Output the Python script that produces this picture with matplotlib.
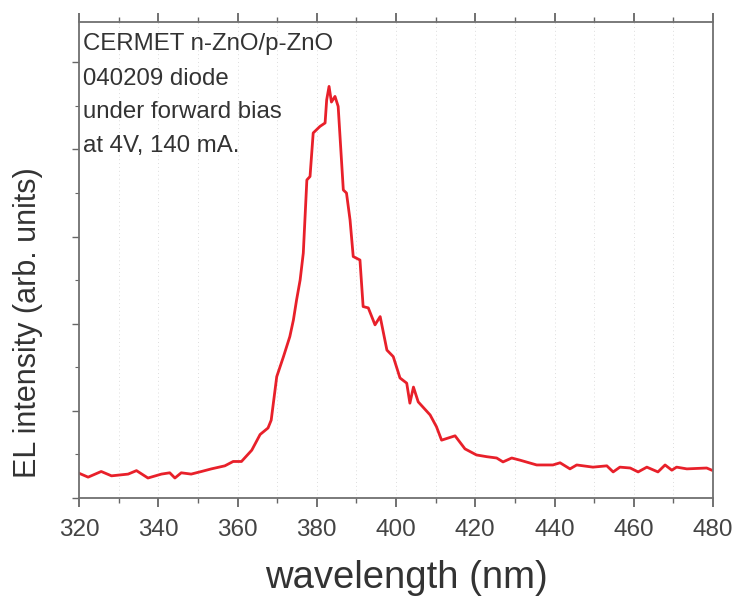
import numpy as np
import matplotlib.pyplot as plt
from matplotlib.ticker import MultipleLocator, NullFormatter

# EL spectrum (wavelength in nm, intensity in arb. units)
wavelength = [320.0, 322.3, 325.6, 328.2, 332.4, 334.5, 337.4, 340.8, 342.9, 344.2,
              345.8, 348.3, 350.9, 353.4, 356.8, 358.9, 361.0, 363.6, 365.7, 367.7,
              368.5, 369.9, 371.6, 373.2, 374.1, 374.9, 375.8, 376.6, 377.5, 378.3,
              379.1, 380.8, 382.1, 382.5, 383.1, 383.7, 384.6, 385.4, 386.7, 387.5,
              388.4, 389.2, 390.9, 391.7, 393.0, 394.7, 396.0, 397.7, 399.3, 401.0,
              402.7, 403.5, 404.4, 405.6, 408.6, 410.2, 411.5, 414.9, 417.4, 420.3,
              422.9, 425.4, 427.0, 429.2, 431.3, 435.5, 439.6, 441.4, 443.9, 445.6,
              449.7, 453.2, 454.8, 456.5, 459.1, 461.1, 463.3, 466.1, 467.9, 469.6,
              470.8, 473.4, 478.4, 479.7]
intensity = [0.56, 0.47, 0.60, 0.50, 0.54, 0.62, 0.45, 0.54, 0.57, 0.45,
             0.57, 0.54, 0.60, 0.66, 0.73, 0.83, 0.83, 1.09, 1.45, 1.60,
             1.78, 2.78, 3.24, 3.70, 4.08, 4.54, 5.00, 5.62, 7.30, 7.38,
             8.38, 8.53, 8.61, 9.14, 9.45, 9.09, 9.22, 8.99, 7.07, 7.00,
             6.38, 5.54, 5.46, 4.39, 4.36, 3.97, 4.16, 3.39, 3.24, 2.75,
             2.63, 2.17, 2.54, 2.20, 1.90, 1.63, 1.32, 1.42, 1.12, 0.98,
             0.94, 0.91, 0.82, 0.91, 0.86, 0.75, 0.75, 0.80, 0.66, 0.75,
             0.70, 0.73, 0.59, 0.70, 0.68, 0.59, 0.70, 0.59, 0.75, 0.63,
             0.70, 0.66, 0.68, 0.63]

note_lines = ["CERMET n-ZnO/p-ZnO", "040209 diode", "under forward bias", "at 4V, 140 mA."]
note_y = [0.953, 0.880, 0.810, 0.739]

plt.rcParams['font.family'] = ['Liberation Sans', 'DejaVu Sans']

fig = plt.figure(figsize=(7.35, 5.98), dpi=100)
ax = fig.add_axes([0.1075, 0.1679, 0.8626, 0.7953])

# faint dotted vertical grid every 10 nm
for g in range(330, 480, 10):
    ax.axvline(g, color='#dddddd', lw=0.7, ls=(0, (1, 3)), zorder=0)

ax.plot(wavelength, intensity, color='#e8202a', lw=2.0)

ax.set_xlim(320, 480)
ax.set_ylim(0, 10.93)

ax.xaxis.set_major_locator(MultipleLocator(20))
ax.xaxis.set_minor_locator(MultipleLocator(10))
ax.yaxis.set_major_locator(MultipleLocator(2))
ax.yaxis.set_minor_locator(MultipleLocator(1))
ax.yaxis.set_major_formatter(NullFormatter())

ax.tick_params(axis='x', which='both', direction='out', top=True, colors='#666666',
               labelcolor='#444444', labelsize=17.5)
ax.tick_params(axis='x', which='major', length=6.5, width=1.3, pad=9)
ax.tick_params(axis='x', which='minor', length=3.5, width=1.0)
ax.tick_params(axis='y', which='both', direction='out', right=False, colors='#666666')
ax.tick_params(axis='y', which='major', length=5, width=1.0)
ax.tick_params(axis='y', which='minor', length=3, width=0.8)

for s in ax.spines.values():
    s.set_color('#707070')
    s.set_linewidth(1.3)

ax.set_xlabel('wavelength (nm)', fontsize=27.5, color='#333333', va='center')
ax.xaxis.set_label_coords(0.516, -0.169)
ax.set_ylabel('EL intensity (arb. units)', fontsize=22, color='#333333', va='center')
ax.yaxis.set_label_coords(-0.080, 0.367)

for txt, yy in zip(note_lines, note_y):
    ax.text(0.006, yy, txt, transform=ax.transAxes, fontsize=17.3, color='#333333',
            va='center', ha='left')

fig.savefig('out.png', dpi=100)
